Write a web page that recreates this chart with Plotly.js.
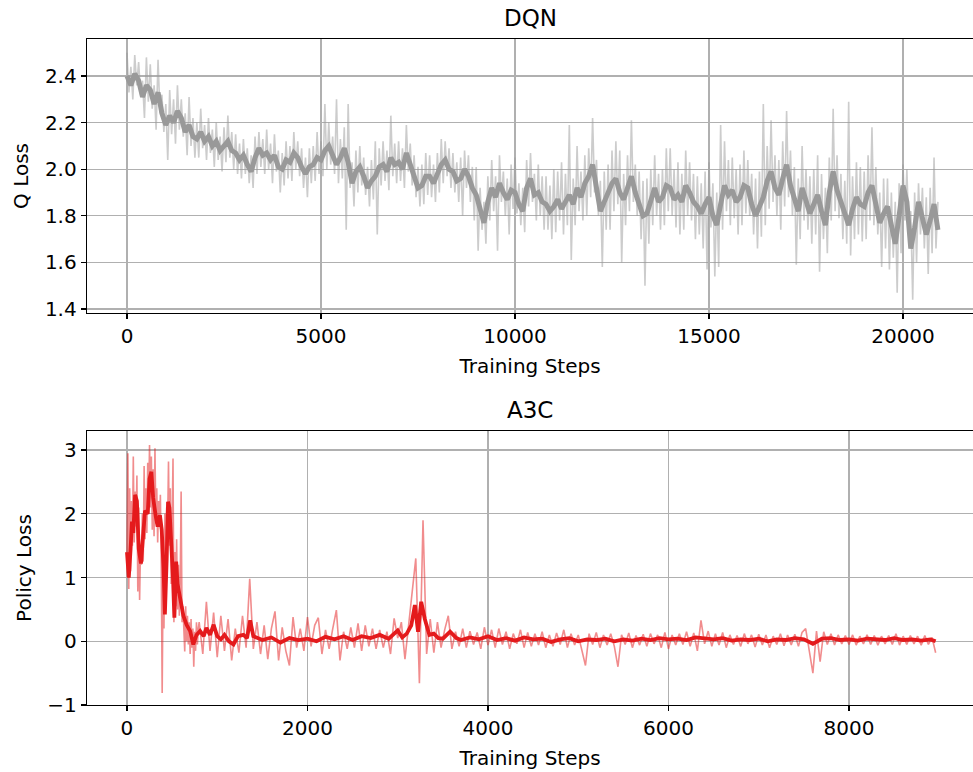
<!DOCTYPE html>
<html>
<head>
<meta charset="utf-8">
<script src="https://cdn.plot.ly/plotly-3.0.1.min.js"></script>
<style>
html,body{margin:0;padding:0;overflow:hidden;background:#fff;}
#chart{width:973px;height:772px;}
</style>
</head>
<body>
<div id="chart"></div>
<script>
// ---------------- DQN (top panel) ----------------
// raw Q loss, one value every 50 training steps (0 .. 20900)
const dqnRawStart = 0;
const dqnRawStep = 50;
const dqnRawLoss = [
2.50,2.33,2.44,2.30,2.49,2.36,2.46,2.32,2.38,2.22,2.48,2.29,2.45,2.26,2.36,2.17,2.47,2.24,2.32,2.16,
2.28,2.04,2.34,2.15,2.30,2.11,2.36,2.17,2.30,2.14,2.24,2.06,2.31,2.10,2.22,2.05,2.20,2.05,2.26,2.09,
2.19,2.04,2.22,2.07,2.17,2.01,2.20,2.04,2.14,1.99,2.18,2.03,2.23,2.05,2.16,2.00,2.15,1.98,2.11,1.96,
2.13,1.98,2.09,1.94,2.06,1.92,2.14,1.98,2.16,2.01,2.13,1.98,2.17,2.00,2.11,1.94,2.15,1.99,2.08,1.90,
2.07,1.93,2.12,1.96,2.10,1.95,2.16,2.00,2.12,1.97,2.09,1.92,2.05,1.88,2.09,1.94,2.10,1.95,2.16,1.98,
2.12,1.97,2.28,2.00,2.20,2.02,2.14,1.98,2.30,1.94,2.13,1.96,2.18,1.74,2.28,1.92,2.03,1.84,2.08,1.90,
2.10,1.93,2.05,1.89,2.01,1.84,2.04,1.87,2.12,1.72,2.09,1.93,2.12,1.95,2.08,1.91,2.23,1.97,2.11,1.94,
2.12,1.95,2.09,1.92,2.19,1.99,2.11,1.93,2.06,1.88,2.01,1.84,2.02,1.85,2.07,1.89,2.06,1.88,2.02,1.86,
2.07,1.90,2.13,1.94,2.12,1.97,2.09,1.92,2.07,1.90,2.03,1.86,2.05,1.80,2.08,1.92,2.06,1.86,2.01,1.78,
2.01,1.65,1.92,1.74,1.86,1.68,1.97,1.78,2.04,1.82,1.97,1.65,2.06,1.86,1.99,1.80,1.96,1.72,2.02,1.83,
2.05,1.81,1.94,1.76,1.92,1.73,2.04,1.84,2.07,1.86,1.98,1.78,2.02,1.80,1.97,1.74,1.97,1.74,1.93,1.70,
2.00,1.73,1.99,1.78,2.03,1.72,1.98,1.76,2.19,1.61,1.96,1.76,2.10,1.82,1.99,1.78,2.06,1.80,2.09,1.88,
2.22,1.90,2.04,1.80,1.95,1.58,1.99,1.74,2.02,1.74,2.08,1.82,2.12,1.85,2.08,1.60,1.98,1.76,2.06,1.82,
2.21,1.86,2.02,1.80,1.99,1.70,1.95,1.50,1.96,1.68,2.00,1.76,2.06,1.80,1.98,1.74,2.00,1.76,2.09,1.82,
2.09,1.80,2.00,1.75,2.03,1.72,1.98,1.74,2.08,1.80,2.03,1.78,1.98,1.70,1.97,1.72,1.94,1.66,1.99,1.57,
2.03,1.75,1.94,1.54,1.90,1.58,2.19,1.74,2.12,1.82,2.04,1.76,2.05,1.79,2.00,1.72,2.02,1.76,2.08,1.81,
2.04,1.80,1.98,1.72,1.96,1.66,1.99,1.71,2.28,1.76,2.10,1.83,2.21,1.86,2.06,1.80,2.04,1.74,2.12,1.84,
2.25,1.88,2.08,1.80,2.01,1.59,1.96,1.70,2.10,1.78,2.00,1.74,1.97,1.68,2.00,1.72,2.06,1.56,1.98,1.70,
1.92,1.64,2.05,1.78,2.26,1.82,2.06,1.79,1.98,1.70,1.95,1.68,2.29,1.63,1.97,1.70,2.03,1.72,2.01,1.69,
1.99,1.70,2.06,1.78,2.18,1.76,2.01,1.72,1.90,1.58,1.96,1.66,1.96,1.57,1.90,1.62,1.86,1.47,1.94,1.64,
2.02,1.78,2.00,1.72,1.82,1.44,1.90,1.60,1.94,1.72,1.92,1.66,1.88,1.55,1.92,1.64,2.05,1.66,1.86
];
// smoothed Q loss, one value every 100 training steps (0 .. 20900)
const dqnSmoothStart = 0;
const dqnSmoothStep = 100;
const dqnSmoothLoss = [
2.40,2.36,2.41,2.38,2.31,2.36,2.34,2.28,2.33,2.24,
2.19,2.23,2.20,2.25,2.22,2.16,2.19,2.14,2.13,2.16,
2.12,2.14,2.10,2.12,2.08,2.10,2.12,2.08,2.07,2.04,
2.06,2.02,1.99,2.05,2.09,2.06,2.07,2.04,2.06,2.01,
2.00,2.04,2.03,2.07,2.05,2.01,1.98,2.01,2.02,2.05,
2.04,2.08,2.10,2.06,2.02,2.05,2.09,2.03,1.94,1.99,
2.01,1.97,1.92,1.95,1.97,2.01,2.02,1.99,2.05,2.02,
2.03,2.00,2.07,2.02,1.97,1.92,1.93,1.97,1.97,1.94,
1.98,2.02,2.04,2.00,1.99,1.95,1.96,2.00,1.97,1.92,
1.89,1.83,1.77,1.86,1.92,1.88,1.94,1.90,1.87,1.91,
1.90,1.85,1.82,1.92,1.96,1.89,1.90,1.86,1.85,1.82,
1.84,1.87,1.83,1.86,1.89,1.85,1.92,1.88,1.94,1.97,
2.02,1.92,1.82,1.86,1.90,1.94,1.96,1.90,1.87,1.93,
1.97,1.90,1.84,1.80,1.81,1.87,1.92,1.86,1.88,1.93,
1.92,1.87,1.89,1.86,1.93,1.90,1.86,1.84,1.81,1.85,
1.88,1.80,1.76,1.85,1.93,1.89,1.91,1.86,1.88,1.93,
1.92,1.85,1.80,1.84,1.88,1.95,1.99,1.92,1.89,1.96,
2.02,1.93,1.87,1.82,1.92,1.86,1.81,1.85,1.89,1.82,
1.76,1.90,1.99,1.91,1.86,1.80,1.76,1.83,1.88,1.85,
1.84,1.90,1.93,1.85,1.77,1.81,1.84,1.76,1.68,1.80,
1.93,1.86,1.66,1.75,1.86,1.79,1.72,1.78,1.85,1.74
];

// ---------------- A3C (bottom panel) ----------------
// raw policy loss, early part every 10 steps (0 .. 790)
const a3cRawEarlyStart = 0;
const a3cRawEarlyStep = 10;
const a3cRawEarlyLoss = [
1.35,2.95,0.82,2.40,1.10,2.20,1.50,2.90,1.55,2.35,
1.80,2.60,0.78,2.10,0.65,1.50,1.20,2.00,1.25,2.75,
1.60,2.40,1.70,2.80,2.20,3.08,2.10,2.90,1.75,2.70,
1.65,3.03,1.85,2.40,1.55,2.20,1.80,2.30,1.20,-0.81,
1.00,0.20,2.00,1.30,2.10,1.80,2.82,1.50,2.40,0.90,
1.80,2.87,0.30,1.40,0.55,1.60,0.50,1.20,0.40,0.95,
2.35,0.30,0.55,0.05,-0.16,0.55,0.00,0.40,-0.05,0.30,
-0.20,0.35,-0.10,0.20,-0.40,0.15,-0.15,0.30,-0.05,0.20
];
// raw policy loss, later part every 40 steps (800 .. 8960)
const a3cRawLateStart = 800;
const a3cRawLateStep = 40;
const a3cRawLateLoss = [
0.30,-0.20,0.62,-0.15,0.45,-0.25,0.40,-0.15,0.35,-0.30,
0.20,-0.18,0.40,-0.10,0.98,-0.12,0.30,-0.20,0.25,-0.28,
0.20,0.47,-0.30,0.22,-0.15,-0.38,0.38,-0.10,0.20,-0.15,
0.38,-0.08,0.25,0.37,-0.20,0.18,-0.12,0.20,0.49,-0.30,
0.15,-0.12,0.22,-0.10,0.28,-0.15,0.25,-0.08,0.20,-0.12,
0.18,-0.10,0.15,-0.20,0.36,0.05,0.30,-0.28,0.25,0.85,
1.30,-0.66,1.90,-0.20,0.35,-0.18,0.30,-0.10,0.18,0.40,
-0.12,0.15,-0.08,0.20,-0.10,0.16,-0.05,0.14,-0.12,0.22,
-0.06,0.18,-0.10,0.20,-0.05,0.15,-0.12,0.12,-0.04,0.18,
-0.10,0.14,-0.08,0.12,-0.06,0.15,-0.10,0.10,-0.08,0.13,
-0.05,0.18,-0.10,0.12,-0.06,0.10,-0.12,-0.38,0.12,-0.05,
0.14,-0.10,0.10,-0.06,0.12,-0.08,-0.40,0.10,-0.05,0.13,
-0.10,0.09,-0.06,0.11,-0.08,0.12,-0.04,0.10,-0.10,0.14,
-0.12,0.10,-0.06,0.12,-0.05,0.15,-0.08,0.13,-0.15,0.33,
-0.04,0.16,-0.08,0.12,-0.06,0.14,-0.10,0.10,-0.05,0.09,
-0.08,0.12,-0.04,0.10,-0.09,0.11,-0.06,0.10,-0.10,0.08,
-0.05,0.12,-0.07,0.10,-0.06,0.11,-0.08,0.14,0.20,-0.15,
-0.50,0.16,-0.32,0.15,-0.05,0.12,-0.06,0.10,-0.04,0.09,
-0.05,0.10,-0.06,0.08,-0.04,0.10,-0.05,0.09,-0.06,0.08,
-0.04,0.09,-0.05,0.12,-0.06,0.08,-0.05,0.09,-0.04,0.08,
-0.06,0.09,-0.05,0.06,-0.18
];
// smoothed policy loss
const a3cSmoothSteps = [
0,20,40,55,70,90,110,130,155,180,
200,230,250,270,290,320,340,365,385,405,
420,440,455,470,495,510,525,545,560,590,
625,660,700,735,770,810,850,880,920,960,
1000,1040,1080,1130,1180,1230,1290,1330,1365,1400,
1500,1600,1700,1800,1900,2000,2100,2200,2300,2400,
2500,2600,2700,2800,2900,3000,3050,3100,3150,3190,
3225,3260,3300,3350,3400,3450,3500,3580,3650,3700,
3800,3900,4000,4100,4200,4300,4400,4500,4600,4700,
4800,4900,5000,5100,5200,5300,5400,5500,5600,5700,
5800,5900,6000,6100,6200,6300,6400,6500,6600,6700,
6800,6900,7000,7100,7200,7300,7400,7500,7600,7700,
7800,7900,8000,8100,8200,8300,8400,8500,8600,8700,
8800,8900,8960
];
const a3cSmoothLoss = [
1.40,1.00,1.45,1.88,1.70,2.30,2.20,1.45,1.22,1.65,
2.05,2.00,2.55,2.66,2.25,1.95,1.80,1.98,1.75,1.15,
0.42,1.30,2.19,2.10,1.50,1.00,0.37,1.25,0.90,0.68,
0.40,0.26,0.16,-0.05,0.10,0.16,0.08,0.21,0.10,0.26,
0.08,0.03,0.10,0.00,-0.05,0.08,0.10,0.05,0.33,0.08,
0.02,0.06,-0.02,0.05,0.02,0.04,0.00,0.07,0.03,0.08,
0.02,0.08,0.05,0.10,0.04,0.17,0.06,0.12,0.25,0.57,
0.15,0.62,0.35,0.10,0.12,0.05,0.04,0.15,0.05,0.02,
0.06,0.03,0.08,0.02,0.05,0.01,0.06,0.03,0.04,-0.01,
0.03,0.05,0.00,0.03,0.02,0.04,0.00,0.03,0.01,0.04,
0.02,0.05,0.03,0.04,0.02,0.06,0.05,0.03,0.05,0.01,
0.03,0.02,0.04,0.00,0.03,0.02,0.05,0.03,-0.04,0.04,
0.05,0.02,0.03,0.01,0.04,0.03,0.02,0.05,0.02,0.03,
0.01,0.03,0.00
];

// titles and labels
const panelTitles = ["DQN", "A3C"];
const xLabel = "Training Steps";
const yLabels = ["Q Loss", "Policy Loss"];
const xTicksTop = [0, 5000, 10000, 15000, 20000];
const yTicksTop = [1.4, 1.6, 1.8, 2.0, 2.2, 2.4];
const xTicksBottom = [0, 2000, 4000, 6000, 8000];
const yTicksBottom = [-1, 0, 1, 2, 3];

function stepsFor(start, step, n){ const a=[]; for(let i=0;i<n;i++) a.push(start+i*step); return a; }

const FONT = "DejaVu Sans, Arial, sans-serif";
const TICK = 20, LAB = 20, TTL = 23;
const traces = [
  {x: stepsFor(dqnRawStart, dqnRawStep, dqnRawLoss.length), y: dqnRawLoss, xaxis:'x', yaxis:'y',
   mode:'lines', line:{color:'rgba(153,153,153,0.5)', width:1.6}, hoverinfo:'skip'},
  {x: stepsFor(dqnSmoothStart, dqnSmoothStep, dqnSmoothLoss.length), y: dqnSmoothLoss, xaxis:'x', yaxis:'y',
   mode:'lines', line:{color:'#999999', width:5}, hoverinfo:'skip'},
  {x: stepsFor(a3cRawEarlyStart, a3cRawEarlyStep, a3cRawEarlyLoss.length)
        .concat(stepsFor(a3cRawLateStart, a3cRawLateStep, a3cRawLateLoss.length)),
   y: a3cRawEarlyLoss.concat(a3cRawLateLoss), xaxis:'x2', yaxis:'y2',
   mode:'lines', line:{color:'rgba(228,26,28,0.5)', width:1.6}, hoverinfo:'skip'},
  {x: a3cSmoothSteps, y: a3cSmoothLoss, xaxis:'x2', yaxis:'y2',
   mode:'lines', line:{color:'#e41a1c', width:3.8}, hoverinfo:'skip'}
];

const axisCommon = {
  showgrid:true, gridcolor:'#b0b0b0', gridwidth:1.3, zeroline:false,
  showline:true, linecolor:'#000', linewidth:1.3,
  ticks:'outside', ticklen:5, tickwidth:1.3, tickcolor:'#000',
  tickfont:{family:FONT, size:TICK, color:'#000'}, fixedrange:true
};
const layout = {
  width:973, height:772, showlegend:false,
  paper_bgcolor:'#fff', plot_bgcolor:'#fff',
  margin:{l:87, r:0, t:39, b:67},
  font:{family:FONT, color:'#000'},
  xaxis: Object.assign({}, axisCommon, {anchor:'y', domain:[0,1], range:[-1031, 21804], mirror:true,
     tickvals:xTicksTop, ticktext:xTicksTop.map(String),
     title:{text:xLabel, font:{family:FONT, size:LAB}, standoff:11}}),
  yaxis: Object.assign({}, axisCommon, {anchor:'x', domain:[0.5886,1], range:[1.383, 2.559],
     tickvals:yTicksTop, ticktext:yTicksTop.map(v=>v.toFixed(1)),
     title:{text:yLabels[0], font:{family:FONT, size:LAB}, standoff:11}}),
  xaxis2: Object.assign({}, axisCommon, {anchor:'y2', domain:[0,1], range:[-443, 9374], mirror:true,
     tickvals:xTicksBottom, ticktext:xTicksBottom.map(String),
     title:{text:xLabel, font:{family:FONT, size:LAB}, standoff:11}}),
  yaxis2: Object.assign({}, axisCommon, {anchor:'x2', domain:[0,0.4114], range:[-1.0, 3.30],
     tickvals:yTicksBottom, ticktext:yTicksBottom.map(v=> v<0 ? '\u2212'+Math.abs(v) : String(v)),
     title:{text:yLabels[1], font:{family:FONT, size:LAB}, standoff:10}}),
  annotations:[
    {text:panelTitles[0], xref:'paper', yref:'paper', x:0.5, y:1, yshift:6, xanchor:'center', yanchor:'bottom',
     showarrow:false, font:{family:FONT, size:TTL, color:'#000'}},
    {text:panelTitles[1], xref:'paper', yref:'paper', x:0.5, y:0.4114, yshift:6, xanchor:'center', yanchor:'bottom',
     showarrow:false, font:{family:FONT, size:TTL, color:'#000'}}
  ]
};
Plotly.newPlot('chart', traces, layout, {displayModeBar:false, staticPlot:true});
</script>
</body>
</html>
